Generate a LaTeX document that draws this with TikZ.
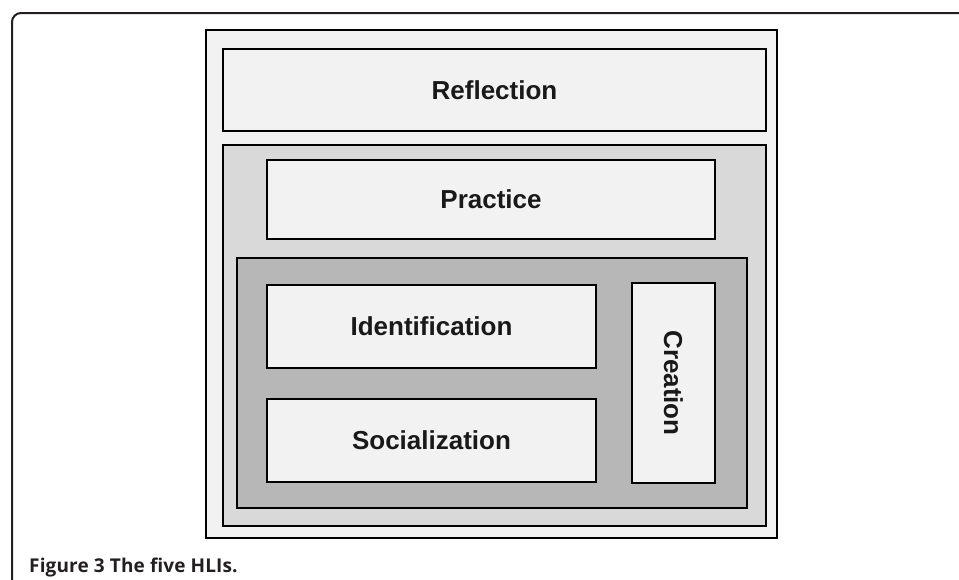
\documentclass[tikz,border=0pt]{standalone}
\usepackage{fontspec}
\setmainfont{Liberation Sans}
\newfontfamily\capfont[LetterSpace=0.8]{Open Sans}
\definecolor{lvlA}{HTML}{F2F2F2}
\definecolor{lvlB}{HTML}{D9D9D9}
\definecolor{lvlC}{HTML}{B7B7B7}
\definecolor{framec}{HTML}{231F20}
\begin{document}
\begin{tikzpicture}[x=1pt,y=-1pt,
  lvl/.style={draw=black,line width=1.8pt},
  lbl/.style={font=\fontsize{26}{30}\selectfont\bfseries,text=black!90}]
\useasboundingbox (0,0) rectangle (959,579);
% outer frame
\draw[framec,line width=2pt,rounded corners=9pt] (12,580) -- (12,13) -- (960,13);
% levels
\filldraw[lvl,fill=lvlA] (206,30) rectangle (777,538);
\node[lvl,fill=lvlA,minimum width=543pt,minimum height=82pt,inner sep=0pt,lbl] (refl) at (494.5,90) {Reflection};
\filldraw[lvl,fill=lvlB] (223,145) rectangle (766,526);
\node[lvl,fill=lvlA,minimum width=448pt,minimum height=79pt,inner sep=0pt,lbl] (prac) at (491,199.5) {Practice};
\filldraw[lvl,fill=lvlC] (237,258) rectangle (747,508);
\node[lvl,fill=lvlA,minimum width=329pt,minimum height=83pt,inner sep=0pt,lbl] (iden) at (431.5,326.5) {Identification};
\node[lvl,fill=lvlA,minimum width=329pt,minimum height=83pt,inner sep=0pt,lbl] (soci) at (431.5,440.5) {Socialization};
\node[lvl,fill=lvlA,minimum width=83pt,minimum height=200pt,inner sep=0pt] (crea) at (673.5,383) {};
\node[lbl,rotate=-90] (creat) at (crea.center) {Creation};
\node[anchor=base west,text=framec,font=\capfont\fontsize{19}{23}\selectfont\bfseries,inner sep=0pt] (cap) at (29,572) {Figure 3 The five HLIs.};
\end{tikzpicture}
\end{document}
